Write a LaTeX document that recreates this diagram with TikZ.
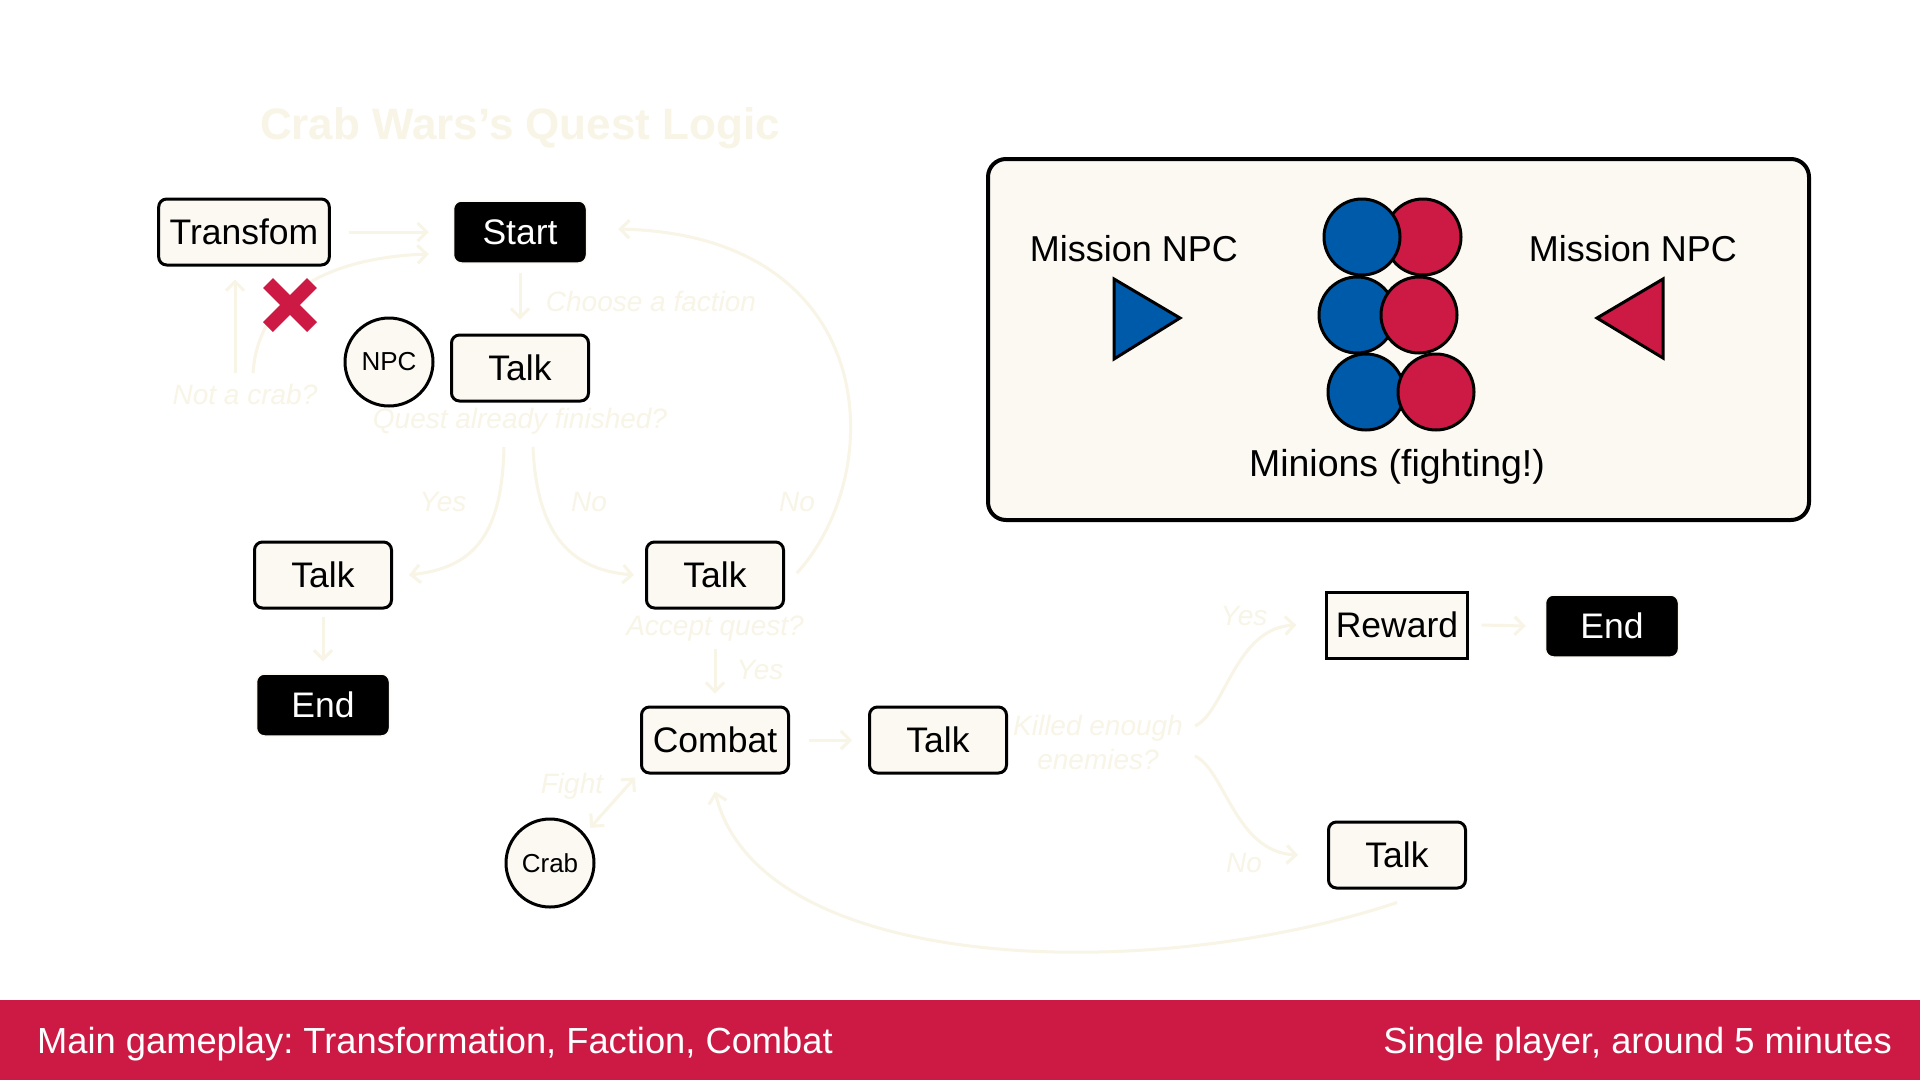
\documentclass[tikz,border=0pt]{standalone}
\usepackage{fontspec}
\setmainfont{Liberation Sans}
\usetikzlibrary{arrows.meta}
\definecolor{cream}{HTML}{FBF9F2}
\definecolor{faint}{HTML}{F8F4E6}
\definecolor{crim}{HTML}{CC1A44}
\definecolor{navy}{HTML}{005AAA}
\frenchspacing
\begin{document}
\begin{tikzpicture}[x=1pt,y=-1pt,
 box/.style={draw=black, line width=3pt, rounded corners=8pt, fill=cream, minimum width=137pt, minimum height=66pt, inner xsep=11pt, font=\fontsize{35.5}{40}\selectfont, text=black},
 sharpbox/.style={box, rounded corners=0pt, inner xsep=9pt},
 blackbox/.style={draw=cream, line width=1.5pt, rounded corners=8pt, fill=black, text=white, minimum width=133pt, minimum height=62pt, font=\fontsize{35.5}{40}\selectfont},
 actor/.style={circle, draw=black, line width=3pt, fill=cream, minimum size=88pt, inner sep=0pt, font=\fontsize{26}{30}\selectfont},
 flow/.style={draw=faint, line width=3pt, -{Straight Barb[length=9pt,width=18pt]}},
 dflow/.style={draw=faint, line width=3pt, {Straight Barb[length=9pt,width=18pt]}-{Straight Barb[length=9pt,width=18pt]}},
 lbl/.style={text=faint, font=\fontsize{28}{34}\selectfont\itshape, inner sep=0pt},
 ttl/.style={text=faint, font=\fontsize{44}{50}\selectfont\bfseries, inner sep=0pt},
 big/.style={font=\fontsize{36}{40}\selectfont, text=black, inner sep=0pt},
 bar/.style={font=\fontsize{36.3}{40}\selectfont, text=white, inner sep=0pt},
 mini/.style={draw=black, line width=3pt},
 tri/.style={draw=black, line width=3pt, line join=miter},
]
\useasboundingbox (0,0) rectangle (1920,1080);
\fill[white] (0,0) rectangle (1920,1080);

% title
\node[ttl] (title) at (520,128) {Crab Wars’s Quest Logic};

% flow nodes
\node[box] (transfom) at (244,232) {Transfom};
\node[blackbox] (start) at (520,232) {Start};
\node[actor] (npc) at (389,362) {NPC};
\node[box] (talkA) at (520,368) {Talk};
\node[box] (talkL) at (323,575) {Talk};
\node[blackbox] (endL) at (323,705) {End};
\node[box] (talkM) at (715,575) {Talk};
\node[box, minimum width=147pt] (combat) at (715,740) {Combat};
\node[box] (talkC) at (938,740) {Talk};
\node[actor] (crab) at (550,863) {Crab};
\node[sharpbox] (reward) at (1397,625) {Reward};
\node[blackbox] (endR) at (1612,626) {End};
\node[box] (talkB) at (1397,855) {Talk};

% faint labels
\node[lbl] (choose) at (651,301) {Choose a faction};
\node[lbl] (notcrab) at (245,394) {Not a crab?};
\node[lbl] (finished) at (520,421) {Quest already finished?};
\node[lbl] (yes1) at (443,502) {Yes};
\node[lbl] (no1) at (589,502) {No};
\node[lbl] (no2) at (797,502) {No};
\node[lbl] (accept) at (715,629) {Accept quest?};
\node[lbl] (yes2) at (760,670) {Yes};
\node[lbl, align=center] (killed) at (1098,742) {Killed enough\\enemies?};
\node[lbl] (yes3) at (1244,616) {Yes};
\node[lbl] (no3) at (1244,863) {No};
\node[lbl] (fight) at (572,786) {Fight};

% connector start points
\coordinate (nc1) at (235,373);
\coordinate (nc2) at (253,373);
\coordinate (f1) at (504,447);
\coordinate (f2) at (533,447);
\coordinate (k1) at (1195,726);
\coordinate (k2) at (1195,756);

% connectors
\draw[flow] ([xshift=18pt]transfom.east) -- ([xshift=-24pt]start.west);
\draw[flow, shorten >=13pt] (nc1) -- (nc1 |- transfom.south);
\draw[flow] (nc2) .. controls (258,300) and (320,258) .. ([xshift=-24pt,yshift=-22pt]start.west);
\draw[flow] ([yshift=-9pt]start.south) -- ([yshift=14pt]talkA.north);
\draw[flow] (f1) .. controls (502,540) and (470,568) .. ([xshift=16pt]talkL.east);
\draw[flow] (f2) .. controls (537,540) and (575,570) .. ([xshift=-11pt]talkM.west);
\draw[flow] ([xshift=12pt,yshift=2pt]talkM.east) .. controls (890,470) and (880,235) .. ([xshift=31pt,yshift=3pt]start.east);
\draw[flow] ([yshift=-7pt]talkL.south) -- ([yshift=12pt]endL.north);
\draw[flow] ([yshift=-39pt]talkM.south) -- ([yshift=12pt]combat.north);
\draw[flow] ([xshift=19pt]combat.east) -- ([xshift=-16pt]talkC.west);
\draw[flow] (k1) .. controls (1225,712) and (1235,628) .. ([xshift=-29pt]reward.west);
\draw[flow] (k2) .. controls (1225,770) and (1235,852) .. ([xshift=-29pt]talkB.west);
\draw[flow] ([xshift=13pt]reward.east) -- ([xshift=-19pt]endR.west);
\draw[flow] ([yshift=-13pt]talkB.south) .. controls (1150,985) and (760,975) .. ([yshift=-17pt]combat.south);
\draw[dflow, shorten <=8pt] (crab.40) -- ([xshift=-5pt,yshift=-3pt]combat.south west);

% red cross
\draw[crim, line width=14pt] (268,283) -- (312,327) (312,283) -- (268,327);

% right panel
\node[draw=black, line width=4pt, rounded corners=18pt, fill=cream, minimum width=821pt, minimum height=361pt] (panel) at (1398.5,339.5) {};
\node[big] (mnpcL) at (1134,249) {Mission NPC};
\node[big] (mnpcR) at (1633,249) {Mission NPC};
\node[big, font=\fontsize{37.5}{40}\selectfont] (minions) at (1397,467) {Minions (fighting!)};
\filldraw[tri, fill=navy] (1114,279) -- (1114,359) -- (1180,318) -- cycle;
\filldraw[tri, fill=crim] (1663,279) -- (1663,358) -- (1597,318) -- cycle;
\filldraw[mini, fill=crim] (1423,237) circle[radius=38pt];
\filldraw[mini, fill=navy] (1362,237) circle[radius=38pt];
\filldraw[mini, fill=navy] (1357,315) circle[radius=38pt];
\filldraw[mini, fill=crim] (1419,315) circle[radius=38pt];
\filldraw[mini, fill=navy] (1366,392) circle[radius=38pt];
\filldraw[mini, fill=crim] (1436,392) circle[radius=38pt];

% bottom bar
\fill[crim] (0,1000) rectangle (1920,1080);
\node[bar, anchor=base west] (barL) at (37,1053) {Main gameplay: Transformation, Faction, Combat};
\node[bar, anchor=base east] (barR) at (1892,1053) {Single player, around 5 minutes};
\end{tikzpicture}
\end{document}
